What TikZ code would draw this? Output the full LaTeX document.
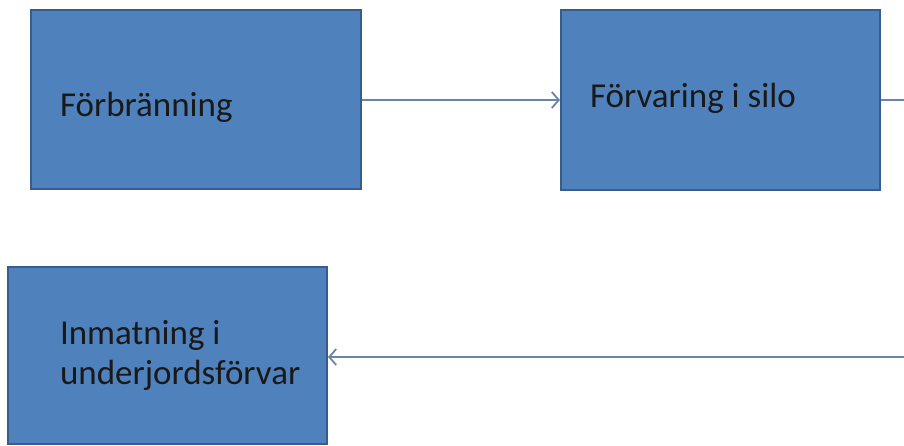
\documentclass[tikz,border=0pt]{standalone}
\usepackage{fontspec}
\setmainfont{Carlito}
\usetikzlibrary{arrows.meta}
\definecolor{boxfill}{HTML}{4F81BD}
\definecolor{boxline}{HTML}{385D8A}
\definecolor{flowline}{HTML}{6A83AA}
\hyphenpenalty=10000
\exhyphenpenalty=10000

\begin{document}
\begin{tikzpicture}[x=1pt, y=-1pt,
  stage/.style={draw=boxline, fill=boxfill, line width=2pt, align=flush left,
    inner ysep=0pt, font=\fontsize{35}{40}\selectfont, text=black!90},
  flow/.style={draw=flowline, line width=1.8pt}]
  % Fix the page size
  \useasboundingbox (0, 0) rectangle (904, 446);

  % Draw the process stages
  \node[stage, text width=272pt, inner xsep=29pt, minimum height=179pt,
    text height=41pt, text depth=8pt] (burn) at (196, 100) {Förbränning};
  \node[stage, text width=261pt, inner xsep=29pt, minimum height=180pt,
    text height=24pt, text depth=8pt] (silo) at (720.5, 100) {Förvaring i silo};
  \node[stage, text width=215pt, inner xsep=52pt, minimum height=177pt]
    (feed) at (167.5, 355.5) {Inmatning i\\underjordsförvar};

  % Free ends at the right border
  \coordinate (outtop) at (904, 100);
  \coordinate (outbot) at (904, 357);

  % Draw the connectors
  \draw[flow, -{Straight Barb[length=7pt, width=16pt]}] (burn.east) -- (silo.west);
  \draw[flow] (silo.east) -- (outtop);
  \draw[flow, -{Straight Barb[length=7pt, width=16pt]}] (outbot) -- (outbot -| feed.east);

\end{tikzpicture}
\end{document}
